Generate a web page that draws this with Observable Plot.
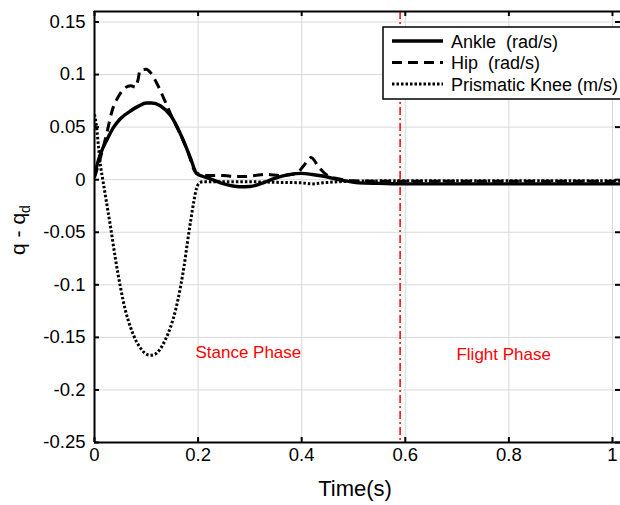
<!DOCTYPE html>
<html><head><meta charset="utf-8">
<script src="https://cdn.jsdelivr.net/npm/d3@7"></script>
<script src="https://cdn.jsdelivr.net/npm/@observablehq/plot@0.6"></script>
<style>body{margin:0;background:#fff} svg{display:block}</style>
</head><body><div id="chart"></div>
<script>
// ---- data ----
const ankleT = [0, 0.005, 0.012, 0.025, 0.037, 0.05, 0.07, 0.085, 0.1, 0.11, 0.127, 0.147, 0.166, 0.185, 0.197, 0.21, 0.225, 0.25, 0.28, 0.3, 0.32, 0.345, 0.375, 0.4, 0.42, 0.44, 0.475, 0.51, 0.55, 0.6, 0.7, 0.8, 0.9, 1.0, 1.015];
const ankleV = [0.004, 0.014, 0.025, 0.039, 0.050, 0.058, 0.0656, 0.070, 0.073, 0.073, 0.0704, 0.061, 0.0435, 0.021, 0.006, 0.003, 0.0005, -0.004, -0.0067, -0.0065, -0.004, 0.0007, 0.0048, 0.006, 0.005, 0.0035, -0.0003, -0.003, -0.0035, -0.004, -0.004, -0.004, -0.004, -0.004, -0.004];

const hipT = [0, 0.008, 0.017, 0.025, 0.034, 0.046, 0.058, 0.07, 0.079, 0.084, 0.088, 0.1, 0.108, 0.12, 0.135, 0.15, 0.165, 0.18, 0.195, 0.205, 0.22, 0.25, 0.27, 0.29, 0.31, 0.33, 0.36, 0.39, 0.405, 0.418, 0.433, 0.45, 0.47, 0.5, 0.55, 0.6, 0.7, 0.8, 0.9, 1.0, 1.015];
const hipV = [0.002, 0.015, 0.031, 0.047, 0.0656, 0.079, 0.087, 0.0894, 0.088, 0.095, 0.104, 0.105, 0.102, 0.092, 0.076, 0.059, 0.044, 0.027, 0.007, 0.005, 0.004, 0.004, 0.003, 0.003, 0.004, 0.005, 0.004, 0.006, 0.014, 0.021, 0.012, 0.004, 0.001, -0.001, -0.0015, -0.0015, -0.0015, -0.0015, -0.0015, -0.0015, -0.0015];

const kneeT = [0, 0.004, 0.008, 0.012, 0.016, 0.022, 0.031, 0.04, 0.05, 0.06, 0.07, 0.08, 0.09, 0.1, 0.108, 0.117, 0.127, 0.137, 0.147, 0.157, 0.166, 0.173, 0.179, 0.186, 0.192, 0.197, 0.203, 0.21, 0.22, 0.25, 0.3, 0.35, 0.4, 0.42, 0.44, 0.5, 0.6, 0.7, 0.8, 0.9, 1.0, 1.015];
const kneeV = [0.062, 0.05, 0.03, 0.012, 0.0, -0.018, -0.045, -0.074, -0.102, -0.125, -0.141, -0.153, -0.161, -0.166, -0.167, -0.166, -0.161, -0.152, -0.140, -0.123, -0.102, -0.082, -0.061, -0.038, -0.020, -0.008, -0.003, -0.002, -0.002, -0.002, -0.002, -0.0025, -0.003, -0.004, -0.003, -0.0015, -0.001, -0.001, -0.001, -0.001, -0.001, -0.001];

const seriesNames = ["Ankle\u00a0\u00a0(rad/s)", "Hip\u00a0\u00a0(rad/s)", "Prismatic Knee (m/s)"];
const xTicks = [0, 0.2, 0.4, 0.6, 0.8, 1];
const yTicks = [-0.25, -0.2, -0.15, -0.1, -0.05, 0, 0.05, 0.1, 0.15];
const xDomain = [0, 1.0155];
const yDomain = [-0.25, 0.16];
const phaseBoundary = [0.59];
const phaseLabels = [
  {t: 0.297, v: -0.164, text: "Stance Phase"},
  {t: 0.79, v: -0.166, text: "Flight Phase"}
];
const xLabel = "Time(s)";

// ---- build ----
const toRows = (T, V) => T.map((t, i) => ({t, v: V[i]}));
const series = [toRows(ankleT, ankleV), toRows(hipT, hipV), toRows(kneeT, kneeV)];
const styles = [
  {strokeWidth: 3.4, strokeDasharray: null},
  {strokeWidth: 3, strokeDasharray: "10,6"},
  {strokeWidth: 3, strokeDasharray: "2.5,2"}
];

const W = 620, H = 505;
const mL = 94, mR = 0, mT = 11, mB = 63;
const pw = W - mL - mR, ph = H - mT - mB;
const tick = 5;
const font = "'Liberation Sans', Arial, sans-serif";

const svg = Plot.plot({
  width: W, height: H,
  marginLeft: mL, marginRight: mR, marginTop: mT, marginBottom: mB,
  style: {fontFamily: font, fontSize: "18px", color: "black", background: "white"},
  x: {domain: xDomain},
  y: {domain: yDomain},
  marks: [
    Plot.gridX(xTicks, {stroke: "#d8d8d8", strokeOpacity: 1, strokeWidth: 1}),
    Plot.gridY(yTicks, {stroke: "#d8d8d8", strokeOpacity: 1, strokeWidth: 1}),
    Plot.ruleX(phaseBoundary, {stroke: "red", strokeWidth: 1.5, strokeDasharray: "8,3,2,3"}),
    ...series.map((d, i) => Plot.line(d, {
      x: "t", y: "v", stroke: "black", curve: "monotone-x", clip: true,
      strokeLinecap: "butt", strokeLinejoin: "round",
      strokeWidth: styles[i].strokeWidth,
      ...(styles[i].strokeDasharray ? {strokeDasharray: styles[i].strokeDasharray} : {})
    })),
    Plot.text(phaseLabels, {x: "t", y: "v", text: "text", fill: "red", fontSize: 17}),
    Plot.ruleX([xDomain[0]], {stroke: "black", strokeWidth: 2}),
    Plot.ruleY(yDomain, {stroke: "black", strokeWidth: 2}),
    Plot.tickX(xTicks, {x: d => d, stroke: "black", strokeWidth: 2, insetTop: ph - tick}),
    Plot.tickX(xTicks, {x: d => d, stroke: "black", strokeWidth: 2, insetBottom: ph - tick}),
    Plot.tickY(yTicks, {y: d => d, stroke: "black", strokeWidth: 2, insetRight: pw - tick}),
    Plot.tickY(yTicks, {y: d => d, stroke: "black", strokeWidth: 2, insetLeft: pw - tick}),
    Plot.axisX(xTicks, {tickSize: 0, tickPadding: 5, tickFormat: d => String(d), label: null, fontSize: 18.5}),
    Plot.axisY(yTicks, {tickSize: 0, tickPadding: 9, tickFormat: d => String(d), label: null, fontSize: 18.5})
  ]
});

const s = d3.select(svg);
// x axis title
s.append("text").attr("x", 355).attr("y", 496).attr("text-anchor", "middle")
  .attr("font-family", font).attr("font-size", 22).attr("fill", "black").text(xLabel);
// y axis title with subscript
const yl = s.append("text").attr("transform", "translate(25,230) rotate(-90)")
  .attr("text-anchor", "middle").attr("font-family", font).attr("font-size", 21).attr("fill", "black");
yl.append("tspan").text("q - q");
yl.append("tspan").attr("font-size", 14).attr("dy", 5).text("d");

// legend
const lg = s.append("g");
lg.append("rect").attr("x", 383).attr("y", 27).attr("width", 245).attr("height", 72)
  .attr("fill", "white").attr("stroke", "black").attr("stroke-width", 1.5);
seriesNames.forEach((name, i) => {
  const y = 41 + i * 21.5;
  lg.append("line").attr("x1", 392).attr("x2", 443).attr("y1", y).attr("y2", y)
    .attr("stroke", "black").attr("stroke-width", styles[i].strokeWidth)
    .attr("stroke-dasharray", styles[i].strokeDasharray);
  lg.append("text").attr("x", 451).attr("y", y + 6.5).attr("text-anchor", "start").attr("font-family", font)
    .attr("font-size", 18).attr("fill", "black").text(name);
});

document.getElementById("chart").appendChild(svg);
</script></body></html>
